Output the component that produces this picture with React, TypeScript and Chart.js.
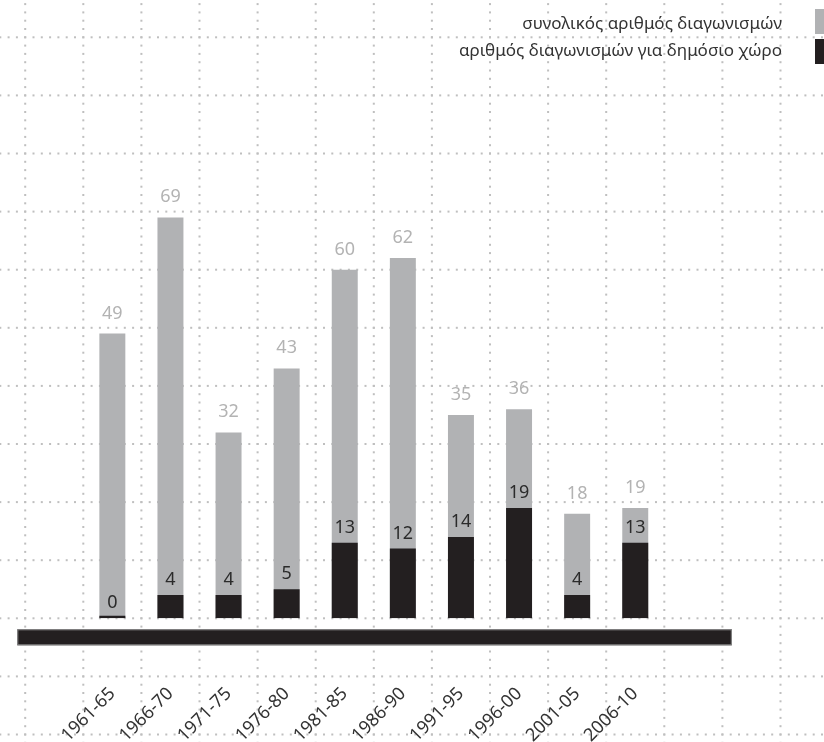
import React, { useEffect, useRef } from 'react';
import { Chart, registerables } from 'chart.js';

Chart.register(...registerables);

const categories = ['1961-65', '1966-70', '1971-75', '1976-80', '1981-85', '1986-90', '1991-95', '1996-00', '2001-05', '2006-10'];
const totalCompetitions = [49, 69, 32, 43, 60, 62, 35, 36, 18, 19];
const publicSpaceCompetitions = [0, 4, 4, 5, 13, 12, 14, 19, 4, 13];
const legendLabels = ['συνολικός αριθμός διαγωνισμών', 'αριθμός διαγωνισμών για δημόσιο χώρο'];

const FONT = '"Noto Sans", "DejaVu Sans", sans-serif';
const GRAY = '#b1b2b4';
const BLACK = '#231f20';
const W = 824;
const H = 742;

const dotGridPlugin = {
  id: 'dotGrid',
  beforeDraw(chart: any) {
    const { ctx, width, height } = chart;
    const xs = chart.scales.x;
    const ys = chart.scales.y;
    const stepX = (xs.right - xs.left) / categories.length;
    const y0 = ys.getPixelForValue(0);
    const stepY = ys.getPixelForValue(0) - ys.getPixelForValue(10);
    const dotX = stepX / 7;
    const dotY = stepY / 7;
    ctx.save();
    ctx.fillStyle = '#ffffff';
    ctx.fillRect(0, 0, width, height);
    ctx.fillStyle = '#bfbfbf';
    const sx = xs.left - Math.ceil(xs.left / stepX) * stepX;
    const sy = y0 - Math.ceil(y0 / stepY) * stepY;
    for (let gx = sx; gx <= width + 1; gx += stepX) {
      for (let dy = y0 - Math.ceil(y0 / dotY) * dotY; dy <= height + 1; dy += dotY) {
        ctx.fillRect(gx - 1, dy - 1, 2, 2);
      }
    }
    for (let gy = sy; gy <= height + 1; gy += stepY) {
      for (let dx = xs.left - Math.ceil(xs.left / dotX) * dotX; dx <= width + 1; dx += dotX) {
        ctx.fillRect(dx - 1, gy - 1, 2, 2);
      }
    }
    ctx.restore();
  },
};

const decorPlugin = {
  id: 'decor',
  afterDatasetsDraw(chart: any) {
    const { ctx } = chart;
    const xs = chart.scales.x;
    const ys = chart.scales.y;
    const y0 = ys.getPixelForValue(0);
    ctx.save();
    // thick baseline bar
    const bx = xs.left - 66;
    const bw = (xs.right + 67.5) - bx;
    ctx.fillStyle = BLACK;
    ctx.fillRect(bx, y0 + 11, bw, 16);
    ctx.strokeStyle = '#8c8c8c';
    ctx.lineWidth = 1;
    ctx.strokeRect(bx + 0.5, y0 + 11 + 0.5, bw - 1, 15);

    // value labels
    ctx.font = `18px ${FONT}`;
    ctx.textAlign = 'center';
    ctx.textBaseline = 'alphabetic';
    chart.data.datasets.forEach((ds: any, di: number) => {
      const meta = chart.getDatasetMeta(di);
      const isTotal = ds.label === legendLabels[0];
      ctx.fillStyle = isTotal ? '#b3b3b3' : '#2b2b2b';
      meta.data.forEach((el: any, i: number) => {
        const v = ds.data[i];
        const py = ys.getPixelForValue(v) - (isTotal ? 15 : 10);
        ctx.fillText(String(v), el.x, py);
      });
    });

    // legend
    ctx.font = `17px ${FONT}`;
    ctx.textAlign = 'right';
    ctx.fillStyle = '#333333';
    ctx.fillText(legendLabels[0], 782, 29);
    ctx.fillText(legendLabels[1], 782, 56);
    ctx.fillStyle = GRAY;
    ctx.fillRect(815, 9, 25, 25);
    ctx.fillStyle = BLACK;
    ctx.fillRect(815, 39, 25, 25);
    ctx.restore();
  },
};

export default function App() {
  const ref = useRef<HTMLCanvasElement | null>(null);

  useEffect(() => {
    document.body.style.margin = '0';
    if (!ref.current) return;
    const chart = new Chart(ref.current, {
      type: 'bar',
      data: {
        labels: categories,
        datasets: [
          {
            label: legendLabels[0],
            data: totalCompetitions,
            backgroundColor: GRAY,
            grouped: false,
            order: 1,
            barPercentage: 0.447,
            categoryPercentage: 1,
          } as any,
          {
            label: legendLabels[1],
            data: publicSpaceCompetitions,
            backgroundColor: BLACK,
            grouped: false,
            order: 0,
            minBarLength: 2.5,
            barPercentage: 0.447,
            categoryPercentage: 1,
          } as any,
        ],
      },
      options: {
        responsive: false,
        animation: false,
        devicePixelRatio: 1,
        layout: { padding: { left: 83.3, right: W - 664.3, top: 37.3, bottom: 0 } },
        plugins: { legend: { display: false }, tooltip: { enabled: false } },
        scales: {
          x: {
            grid: { display: false },
            border: { display: false },
            ticks: {
              color: '#333333',
              font: { family: FONT, size: 18 },
              maxRotation: 45,
              minRotation: 45,
              padding: 57,
              autoSkip: false,
            },
            afterFit: (scale: any) => {
              scale.height = H - 618.3;
            },
          },
          y: {
            display: false,
            min: 0,
            max: 100,
          },
        },
      },
      plugins: [dotGridPlugin, decorPlugin],
    });
    return () => chart.destroy();
  }, []);

  return <canvas ref={ref} width={W} height={H} style={{ display: 'block', width: W, height: H }} />;
}
